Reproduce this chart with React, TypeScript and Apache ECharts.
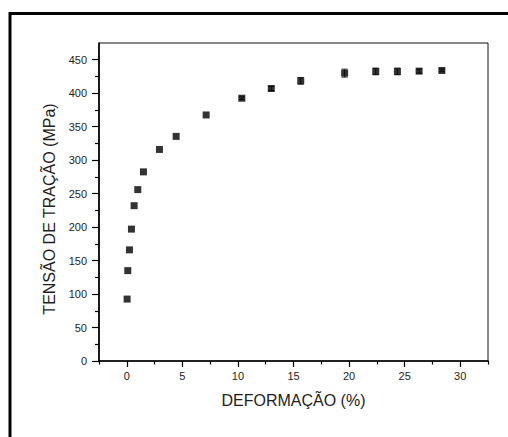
import React, { useEffect, useRef } from 'react';
import * as echarts from 'echarts';

// Deformação (%) and tensão de tração (MPa)
const strain = [0.03, 0.09, 0.24, 0.42, 0.66, 0.99, 1.5, 2.94, 4.44, 7.14, 10.35, 13.0, 15.65, 19.6, 22.4, 24.35, 26.3, 28.35];
const stress = [92.5, 135, 166, 197, 232, 256, 282.5, 316, 335.5, 367.5, 392.5, 407, 418.5, 430, 432.5, 432.5, 433, 434];
const stressErr = [0, 0, 0, 0, 0, 0, 0, 0, 0, 0, 2, 3, 5, 6, 5, 5, 3, 2];

const xMajor = [0, 5, 10, 15, 20, 25, 30];
const xMinor = [-2.5, 2.5, 7.5, 12.5, 17.5, 22.5, 27.5, 32.5];
const yMajor = [0, 50, 100, 150, 200, 250, 300, 350, 400, 450];
const yMinor = [25, 75, 125, 175, 225, 275, 325, 375, 425];

const xName = 'DEFORMAÇÃO (%)';
const yName = 'TENSÃO DE TRAÇÃO (MPa)';

const FONT = '"Liberation Sans", Arial, sans-serif';
const TXT = '#1e1e1e';

export default function App() {
  const ref = useRef<HTMLDivElement>(null);
  useEffect(() => {
    document.body.style.margin = '0';
    if (!ref.current) return;
    const chart = echarts.init(ref.current, undefined, { renderer: 'svg' });
    const points = strain.map((x, i) => [x, stress[i], stressErr[i]]);
    const option: any = {
      animation: false,
      backgroundColor: '#fff',
      grid: {
        left: 99, right: 20, top: 43, bottom: 76,
        show: true, borderColor: '#111', borderWidth: 1,
      },
      graphic: [
        {
          type: 'rect', z: 100,
          shape: { x: 10, y: 13.5, width: 700, height: 700 },
          style: { fill: 'none', stroke: '#000', lineWidth: 3 },
        },
        {
          type: 'text', x: 49, y: 209, rotation: Math.PI / 2,
          style: {
            text: yName, fontSize: 16, fontFamily: FONT, fill: TXT,
            align: 'center', verticalAlign: 'middle',
          },
        },
      ],
      xAxis: [
        {
          type: 'value', min: -2.5, max: 32.5, position: 'bottom',
          name: xName, nameLocation: 'middle', nameGap: 31,
          nameTextStyle: { fontSize: 16, fontFamily: FONT, color: TXT },
          axisLine: { show: true, onZero: false, lineStyle: { color: '#000', width: 1.6 } },
          axisTick: { show: true, customValues: xMajor, length: 6, inside: false, lineStyle: { color: '#000', width: 1.2 } },
          axisLabel: { customValues: xMajor, fontSize: 11, fontFamily: FONT, color: TXT, margin: 9 },
          splitLine: { show: false },
        },
        {
          type: 'value', min: -2.5, max: 32.5, position: 'bottom', offset: 0,
          axisLine: { show: false, onZero: false },
          axisTick: { show: true, customValues: xMinor, length: 3.5, lineStyle: { color: '#000', width: 1.2 } },
          axisLabel: { show: false },
          splitLine: { show: false },
        },
      ],
      yAxis: [
        {
          type: 'value', min: 0, max: 475, position: 'left',
          axisLine: { show: true, onZero: false, lineStyle: { color: '#000', width: 1.6 } },
          axisTick: { show: true, customValues: yMajor, length: 7, lineStyle: { color: '#000', width: 1.2 } },
          axisLabel: { customValues: yMajor, fontSize: 11, fontFamily: FONT, color: TXT, margin: 12 },
          splitLine: { show: false },
        },
        {
          type: 'value', min: 0, max: 475, position: 'left', offset: 0,
          axisLine: { show: false, onZero: false },
          axisTick: { show: true, customValues: yMinor, length: 4, lineStyle: { color: '#000', width: 1.2 } },
          axisLabel: { show: false },
          splitLine: { show: false },
        },
      ],
      series: [
        {
          type: 'custom',
          xAxisIndex: 0, yAxisIndex: 0,
          data: points,
          encode: { x: 0, y: 1 },
          z: 3,
          renderItem: (params: any, api: any) => {
            const x = api.value(0);
            const y = api.value(1);
            const e = api.value(2);
            if (!e) return null;
            const top = api.coord([x, y + e]);
            const bot = api.coord([x, y - e]);
            const hw = 3;
            const st = { stroke: '#333', lineWidth: 1 };
            return {
              type: 'group',
              children: [
                { type: 'line', shape: { x1: top[0], y1: top[1], x2: bot[0], y2: bot[1] }, style: st },
                { type: 'line', shape: { x1: top[0] - hw, y1: top[1], x2: top[0] + hw, y2: top[1] }, style: st },
                { type: 'line', shape: { x1: bot[0] - hw, y1: bot[1], x2: bot[0] + hw, y2: bot[1] }, style: st },
              ],
            };
          },
        },
        {
          type: 'scatter',
          xAxisIndex: 0, yAxisIndex: 0,
          data: points.map((p) => [p[0], p[1]]),
          symbol: 'rect',
          symbolSize: 7,
          itemStyle: { color: '#000' },
          z: 4,
        },
      ],
    };
    chart.setOption(option);
    return () => chart.dispose();
  }, []);
  return <div ref={ref} style={{ width: 508, height: 437 }} />;
}
